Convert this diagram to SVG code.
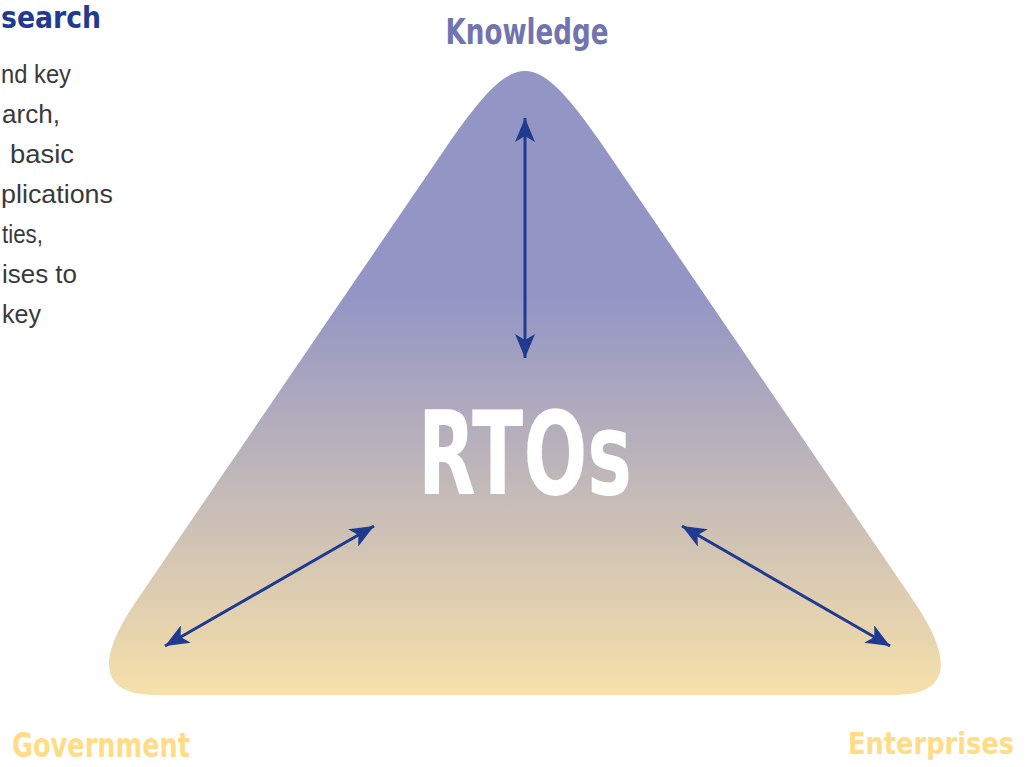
<svg xmlns="http://www.w3.org/2000/svg" width="1030" height="767" viewBox="0 0 1030 767">
<defs>
<linearGradient id="tri" gradientUnits="userSpaceOnUse" x1="0" y1="72" x2="0" y2="695">
<stop offset="0" stop-color="#9395c5"/>
<stop offset="0.36" stop-color="#9395c5"/>
<stop offset="1" stop-color="#f7e0aa"/>
</linearGradient>
<marker id="ah" markerUnits="userSpaceOnUse" markerWidth="26" markerHeight="20" refX="24" refY="10" orient="auto-start-reverse" viewBox="0 0 26 20">
<path d="M0,0 L24,10 L0,20 L6,10 Z" fill="#1f3a8f"/>
</marker>
<style>
.lbl{font-family:"Liberation Sans Narrow","DejaVu Sans Condensed","Liberation Sans",sans-serif;font-weight:bold}
.body{font-family:"Liberation Sans",Arial,sans-serif;font-size:26px;fill:#3a3a3a}
.conn{stroke:#1f3a8f;stroke-width:3;fill:none;marker-start:url(#ah);marker-end:url(#ah)}
</style>
</defs>
<rect width="1030" height="767" fill="#ffffff"/>
<g id="paragraph">
<text x="1" y="28" class="lbl" font-size="31" fill="#1f3a8f" textLength="100" lengthAdjust="spacingAndGlyphs">search</text>
<g class="body">
<text x="1" y="83" textLength="70" lengthAdjust="spacingAndGlyphs">nd key</text>
<text x="2" y="123" textLength="58" lengthAdjust="spacingAndGlyphs">arch,</text>
<text x="10" y="163" textLength="64" lengthAdjust="spacingAndGlyphs">basic</text>
<text x="1" y="203" textLength="112" lengthAdjust="spacingAndGlyphs">plications</text>
<text x="2" y="243" textLength="41" lengthAdjust="spacingAndGlyphs">ties,</text>
<text x="2" y="283" textLength="75" lengthAdjust="spacingAndGlyphs">ises to</text>
<text x="2" y="323" textLength="39" lengthAdjust="spacingAndGlyphs">key</text>
</g>
</g>
<g id="rtos">
<path d="M 137,600 L 451,140 C 516,48 534,48 599,140 L 913,600 C 951,655 955,695 895,695 L 155,695 C 95,695 99,655 137,600 Z" fill="url(#tri)"/>
<text x="525" y="494" text-anchor="middle" class="lbl" font-size="116" fill="#ffffff" textLength="214" lengthAdjust="spacingAndGlyphs">RTOs</text>
</g>
<g id="knowledge">
<text x="527" y="44" text-anchor="middle" class="lbl" font-size="36" fill="#7274b0" textLength="163" lengthAdjust="spacingAndGlyphs">Knowledge</text>
</g>
<g id="government">
<text x="12" y="757" class="lbl" font-size="33" fill="#ffdc88" textLength="178" lengthAdjust="spacingAndGlyphs">Government</text>
</g>
<g id="enterprises">
<text x="848" y="754" class="lbl" font-size="31" fill="#ffdc88" textLength="166" lengthAdjust="spacingAndGlyphs">Enterprises</text>
</g>
<g id="connectors">
<line class="conn" x1="525" y1="118" x2="525" y2="358"/>
<line class="conn" x1="374" y1="526" x2="165" y2="646"/>
<line class="conn" x1="682" y1="526" x2="890" y2="646"/>
</g>
</svg>
